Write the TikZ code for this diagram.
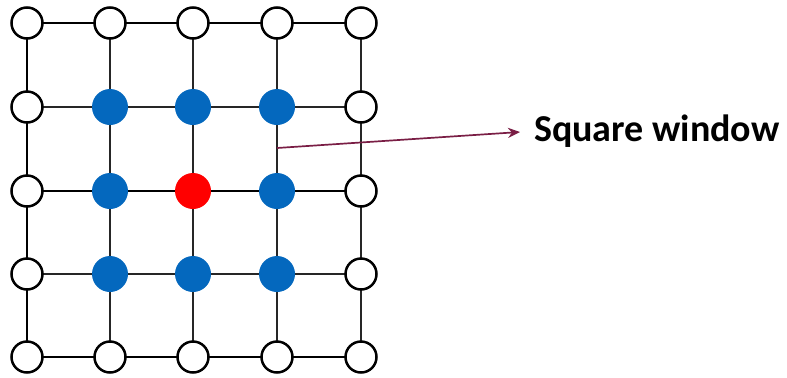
\documentclass[tikz,border=0pt]{standalone}
\usepackage{fontspec}
\setmainfont{Carlito}
\usetikzlibrary{arrows.meta}
\definecolor{nodeblue}{HTML}{0468BE}
\definecolor{arrowred}{HTML}{7A1E45}
\tikzset{
  whitenode/.style={circle,draw=black,fill=white,line width=2.5bp,minimum size=31bp,inner sep=0pt},
  bluenode/.style={circle,fill=nodeblue,minimum size=36bp,inner sep=0pt},
  rednode/.style={circle,fill=red,minimum size=36bp,inner sep=0pt},
  thinline/.style={line width=2bp,draw=black!85},
  thickline/.style={line width=2.9bp,draw=black},
  pointer/.style={draw=arrowred,line width=1.7bp,-{Stealth[length=12bp,width=10bp]}},
}
\begin{document}
\begin{tikzpicture}[x=1bp,y=-1bp]
\useasboundingbox (0,0) rectangle (787,377);
\def\xs{{27,110,193,277,361}}
\def\ys{{23,107,191,274,357}}
% coordinates
\foreach \i in {0,...,4}{
  \foreach \j in {0,...,4}{
    \pgfmathsetmacro\xx{\xs[\i]}
    \pgfmathsetmacro\yy{\ys[\j]}
    \coordinate (p\i\j) at (\xx,\yy);
  }
}
% horizontal lines
\foreach \j/\st in {0/thickline,1/thinline,2/thickline,3/thinline,4/thickline}{
  \foreach \i [count=\k from 1] in {0,...,3}{
    \draw[\st] (p\i\j) -- (p\k\j);
  }
}
% vertical lines
\foreach \i/\st in {0/thickline,1/thinline,2/thinline,3/thinline,4/thinline}{
  \foreach \j [count=\k from 1] in {0,...,3}{
    \draw[\st] (p\i\j) -- (p\i\k);
  }
}
% nodes
\foreach \i in {0,...,4}{
  \foreach \j in {0,...,4}{
    \node[whitenode] (n\i\j) at (p\i\j) {};
  }
}
\foreach \i/\j in {1/1,2/1,3/1,1/2,3/2,1/3,2/3,3/3}{
  \node[bluenode] (b\i\j) at (p\i\j) {};
}
\node[rednode] (center) at (p22) {};
\coordinate (start) at (277,148);
\node[anchor=west,inner sep=0pt,font=\bfseries\fontsize{38bp}{45bp}\selectfont] (label) at (534,131) {Square window};
\draw[pointer] (start) -- ([xshift=-14bp,yshift=-1bp]label.west);
\end{tikzpicture}
\end{document}
